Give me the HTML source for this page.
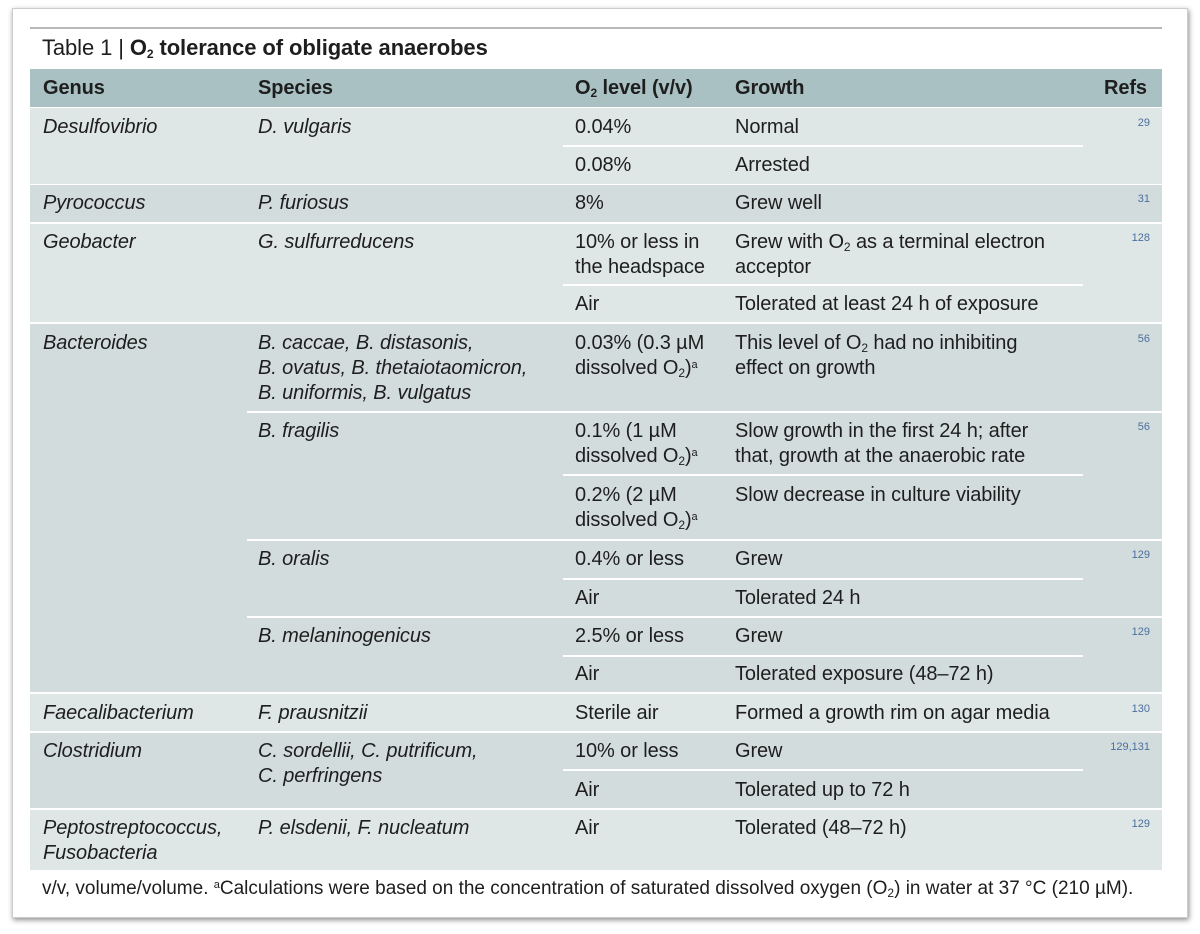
<!DOCTYPE html>
<html><head><meta charset="utf-8">
<style>
body{margin:0;width:1200px;height:934px;background:#fff;font-family:"Liberation Sans",sans-serif;color:#1e1e1e;position:relative;overflow:hidden}
.card{position:absolute;left:12px;top:8px;width:1174px;height:908px;background:#fff;box-shadow:1px 2px 5px rgba(0,0,0,.45);border:1px solid #ccc}
.a{position:absolute}
.t{position:absolute;font-size:20px;line-height:25px;letter-spacing:-0.1px;white-space:nowrap}
.i{font-style:italic}
.h{font-weight:bold;font-size:20px}
.r{position:absolute;font-size:11px;color:#4a6fa0;right:50px}
.l{position:absolute;background:#fff;height:2px}
sub{font-size:12px;vertical-align:-3px;line-height:0}
sup{font-size:11px;vertical-align:6px;line-height:0}
</style></head><body>
<div class="card"></div>
<div class="a" style="left:30px;top:27px;width:1132px;height:2px;background:#b8b8b8"></div>
<div class="t" style="left:42px;top:35px;font-size:22px;line-height:26px">Table 1 | <b>O<sub>2</sub> tolerance of obligate anaerobes</b></div>
<div class="a" style="left:30px;top:69px;width:1132px;height:38px;background:#a9c1c3"></div>
<div class="t h" style="left:43px;top:76px">Genus</div>
<div class="t h" style="left:258px;top:76px">Species</div>
<div class="t h" style="left:575px;top:76px">O<sub>2</sub> level (v/v)</div>
<div class="t h" style="left:735px;top:76px">Growth</div>
<div class="t h" style="left:1104px;top:76px">Refs</div>

<div class="a" style="left:30px;top:108px;width:1132px;height:76px;background:#dfe6e6"></div>
<div class="a" style="left:30px;top:185px;width:1132px;height:37px;background:#d3dcdd"></div>
<div class="a" style="left:30px;top:224px;width:1132px;height:98px;background:#dfe6e6"></div>
<div class="a" style="left:30px;top:324px;width:1132px;height:368px;background:#d3dcdd"></div>
<div class="a" style="left:30px;top:694px;width:1132px;height:37px;background:#dfe6e6"></div>
<div class="a" style="left:30px;top:733px;width:1132px;height:75px;background:#d3dcdd"></div>
<div class="a" style="left:30px;top:810px;width:1132px;height:60px;background:#dfe6e6"></div>

<div class="l" style="left:563px;top:145px;width:520px"></div>
<div class="l" style="left:563px;top:284px;width:520px"></div>
<div class="l" style="left:247px;top:411px;width:915px"></div>
<div class="l" style="left:563px;top:474px;width:520px"></div>
<div class="l" style="left:247px;top:539px;width:915px"></div>
<div class="l" style="left:563px;top:578px;width:520px"></div>
<div class="l" style="left:247px;top:616px;width:915px"></div>
<div class="l" style="left:563px;top:655px;width:520px"></div>
<div class="l" style="left:563px;top:769px;width:520px"></div>

<div class="t i" style="left:43px;top:115px">Desulfovibrio</div>
<div class="t i" style="left:258px;top:115px">D. vulgaris</div>
<div class="t" style="left:575px;top:115px">0.04%</div>
<div class="t" style="left:735px;top:115px">Normal</div>
<div class="r" style="top:117px">29</div>
<div class="t" style="left:575px;top:153px">0.08%</div>
<div class="t" style="left:735px;top:153px">Arrested</div>

<div class="t i" style="left:43px;top:191px">Pyrococcus</div>
<div class="t i" style="left:258px;top:191px">P. furiosus</div>
<div class="t" style="left:575px;top:191px">8%</div>
<div class="t" style="left:735px;top:191px">Grew well</div>
<div class="r" style="top:193px">31</div>

<div class="t i" style="left:43px;top:230px">Geobacter</div>
<div class="t i" style="left:258px;top:230px">G. sulfurreducens</div>
<div class="t" style="left:575px;top:230px">10% or less in<br>the headspace</div>
<div class="t" style="left:735px;top:230px">Grew with O<sub>2</sub> as a terminal electron<br>acceptor</div>
<div class="r" style="top:232px">128</div>
<div class="t" style="left:575px;top:292px">Air</div>
<div class="t" style="left:735px;top:292px">Tolerated at least 24 h of exposure</div>

<div class="t i" style="left:43px;top:331px">Bacteroides</div>
<div class="t i" style="left:258px;top:331px">B. caccae, B. distasonis,<br>B. ovatus, B. thetaiotaomicron,<br>B. uniformis, B. vulgatus</div>
<div class="t" style="left:575px;top:331px">0.03% (0.3 µM<br>dissolved O<sub>2</sub>)<sup>a</sup></div>
<div class="t" style="left:735px;top:331px">This level of O<sub>2</sub> had no inhibiting<br>effect on growth</div>
<div class="r" style="top:333px">56</div>

<div class="t i" style="left:258px;top:419px">B. fragilis</div>
<div class="t" style="left:575px;top:419px">0.1% (1 µM<br>dissolved O<sub>2</sub>)<sup>a</sup></div>
<div class="t" style="left:735px;top:419px">Slow growth in the first 24 h; after<br>that, growth at the anaerobic rate</div>
<div class="r" style="top:421px">56</div>
<div class="t" style="left:575px;top:483px">0.2% (2 µM<br>dissolved O<sub>2</sub>)<sup>a</sup></div>
<div class="t" style="left:735px;top:483px">Slow decrease in culture viability</div>

<div class="t i" style="left:258px;top:547px">B. oralis</div>
<div class="t" style="left:575px;top:547px">0.4% or less</div>
<div class="t" style="left:735px;top:547px">Grew</div>
<div class="r" style="top:549px">129</div>
<div class="t" style="left:575px;top:586px">Air</div>
<div class="t" style="left:735px;top:586px">Tolerated 24 h</div>

<div class="t i" style="left:258px;top:624px">B. melaninogenicus</div>
<div class="t" style="left:575px;top:624px">2.5% or less</div>
<div class="t" style="left:735px;top:624px">Grew</div>
<div class="r" style="top:626px">129</div>
<div class="t" style="left:575px;top:662px">Air</div>
<div class="t" style="left:735px;top:662px">Tolerated exposure (48–72 h)</div>

<div class="t i" style="left:43px;top:701px">Faecalibacterium</div>
<div class="t i" style="left:258px;top:701px">F. prausnitzii</div>
<div class="t" style="left:575px;top:701px">Sterile air</div>
<div class="t" style="left:735px;top:701px">Formed a growth rim on agar media</div>
<div class="r" style="top:703px">130</div>

<div class="t i" style="left:43px;top:739px">Clostridium</div>
<div class="t i" style="left:258px;top:739px">C. sordellii, C. putrificum,<br>C. perfringens</div>
<div class="t" style="left:575px;top:739px">10% or less</div>
<div class="t" style="left:735px;top:739px">Grew</div>
<div class="r" style="top:741px">129,131</div>
<div class="t" style="left:575px;top:778px">Air</div>
<div class="t" style="left:735px;top:778px">Tolerated up to 72 h</div>

<div class="t i" style="left:43px;top:816px">Peptostreptococcus,<br>Fusobacteria</div>
<div class="t i" style="left:258px;top:816px">P. elsdenii, F. nucleatum</div>
<div class="t" style="left:575px;top:816px">Air</div>
<div class="t" style="left:735px;top:816px">Tolerated (48–72 h)</div>
<div class="r" style="top:818px">129</div>

<div class="t" style="left:42px;top:876px;font-size:19px;letter-spacing:0">v/v, volume/volume. <sup>a</sup>Calculations were based on the concentration of saturated dissolved oxygen (O<sub>2</sub>) in water at 37 °C (210 µM).</div>
</body></html>
